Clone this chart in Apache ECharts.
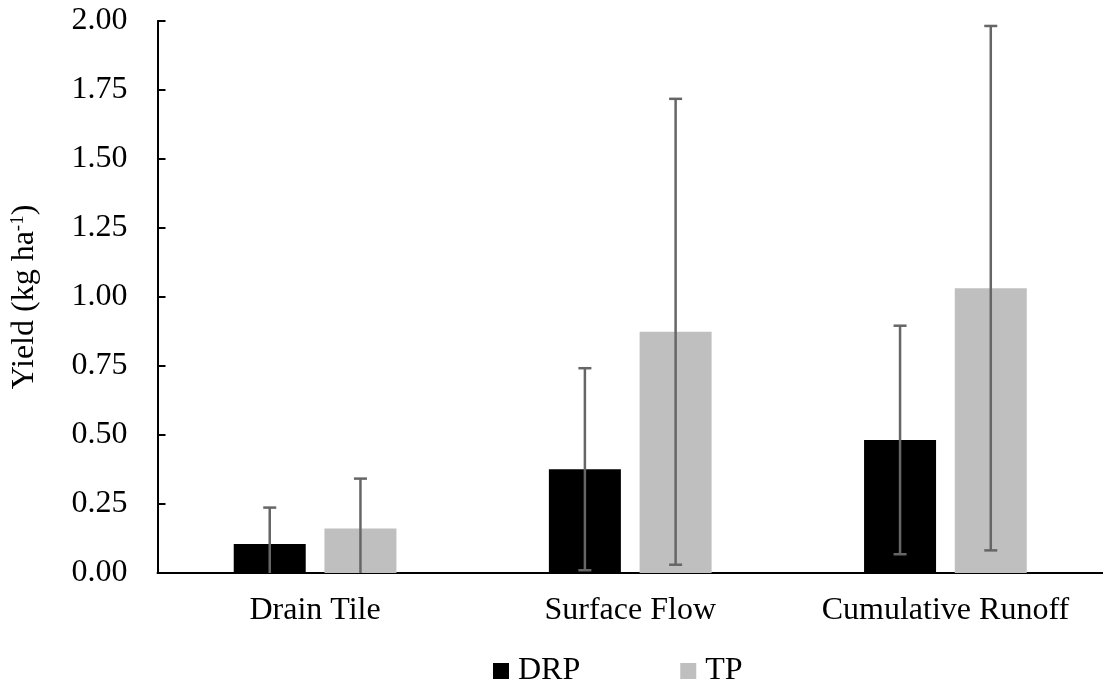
<!DOCTYPE html>
<html>
<head>
<meta charset="utf-8">
<script src="https://cdn.jsdelivr.net/npm/echarts@6/dist/echarts.min.js"></script>
<style>
  html, body { margin: 0; padding: 0; background: #fff; }
  #chart { width: 1103px; height: 683px; }
</style>
</head>
<body>
<div id="chart"></div>
<script>
// Phosphorus yields by flow pathway (mean with standard deviation)
var categories = ['Drain Tile', 'Surface Flow', 'Cumulative Runoff'];
var seriesNames = ['DRP', 'TP'];
var drpMean = [0.105, 0.376, 0.482];
var drpSd   = [0.132, 0.366, 0.414];
var tpMean  = [0.161, 0.874, 1.032];
var tpSd    = [0.181, 0.844, 0.950];
var yTicks  = ['0.00', '0.25', '0.50', '0.75', '1.00', '1.25', '1.50', '1.75', '2.00'];

var FONT = '"Liberation Serif", "Times New Roman", serif';
var FS = 32;
var BAR_W = 72;
var BAR_GAP = 0.26;

function errorSeries(means, sds, side) {
  return {
    type: 'custom',
    name: seriesNames[side < 0 ? 0 : 1] + ' error',
    silent: true,
    z: 10,
    data: means.map(function (m, i) { return [i, m, sds[i]]; }),
    renderItem: function (params, api) {
      var idx = api.value(0);
      var mean = api.value(1);
      var sd = api.value(2);
      var offset = side * BAR_W * (1 + BAR_GAP) / 2;
      var hi = mean + sd;
      var lo = Math.max(0, mean - sd);
      var pHi = api.coord([idx, hi]);
      var pLo = api.coord([idx, lo]);
      var x = pHi[0] + offset;
      var style = { stroke: '#666666', lineWidth: 2.5 };
      var cap = 6.5;
      var kids = [
        { type: 'line', shape: { x1: x, y1: pHi[1], x2: x, y2: pLo[1] }, style: style },
        { type: 'line', shape: { x1: x - cap, y1: pHi[1], x2: x + cap, y2: pHi[1] }, style: style }
      ];
      if (mean - sd > 0) {
        kids.push({ type: 'line', shape: { x1: x - cap, y1: pLo[1], x2: x + cap, y2: pLo[1] }, style: style });
      }
      return { type: 'group', children: kids };
    }
  };
}

var chart = echarts.init(document.getElementById('chart'), null, { renderer: 'canvas' });
chart.setOption({
  backgroundColor: '#ffffff',
  animation: false,
  grid: { left: 157.5, top: 21, height: 552, width: 954, containLabel: false },
  legend: {
    data: seriesNames,
    top: 655,
    left: 493,
    padding: 0,
    itemWidth: 16,
    itemHeight: 16,
    itemGap: 100,
    icon: 'rect',
    textStyle: { fontFamily: FONT, fontSize: FS, lineHeight: 32, color: '#000', padding: [0, 0, 0, 4] }
  },
  xAxis: {
    type: 'category',
    data: categories,
    axisLine: { lineStyle: { color: '#000', width: 2 } },
    axisTick: { show: false },
    axisLabel: { fontFamily: FONT, fontSize: FS, color: '#000', margin: 22, interval: 0, hideOverlap: false },
    splitLine: { show: false }
  },
  yAxis: {
    type: 'value',
    min: 0,
    max: 2,
    interval: 0.25,
    name: '{n|Yield (kg ha}{s|-1}{n|)}',
    nameLocation: 'middle',
    nameRotate: 90,
    nameGap: 116,
    nameTextStyle: {
      rich: {
        n: { fontFamily: FONT, fontSize: FS, color: '#000' },
        s: { fontFamily: FONT, fontSize: 19, color: '#000', verticalAlign: 'top', padding: [0, 0, 14, 0] }
      }
    },
    axisLine: { show: true, lineStyle: { color: '#000', width: 2 } },
    axisTick: { show: true, inside: true, length: 8, lineStyle: { color: '#000', width: 2 } },
    axisLabel: {
      fontFamily: FONT, fontSize: FS, color: '#000', margin: 30,
      formatter: function (v) { return yTicks[Math.round(v / 0.25)]; }
    },
    splitLine: { show: false }
  },
  series: [
    { name: 'DRP', type: 'bar', data: drpMean, barWidth: BAR_W, barGap: (BAR_GAP * 100) + '%',
      itemStyle: { color: '#000000' } },
    { name: 'TP', type: 'bar', data: tpMean, barWidth: BAR_W,
      itemStyle: { color: '#bfbfbf' } },
    errorSeries(drpMean, drpSd, -1),
    errorSeries(tpMean, tpSd, 1)
  ]
});
</script>
</body>
</html>
